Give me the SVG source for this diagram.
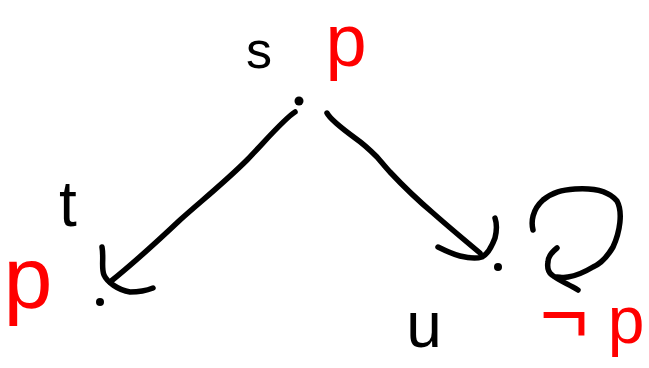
<svg xmlns="http://www.w3.org/2000/svg" width="649" height="368" viewBox="0 0 649 368">
<style>
.ink{fill:none;stroke:#000;stroke-width:5.5;stroke-linecap:round;stroke-linejoin:round}
.dot{fill:#000}
.lbl{font-family:"Liberation Sans","DejaVu Sans",sans-serif;fill:#000;text-anchor:middle}
.prop{font-family:"Liberation Sans","DejaVu Sans",sans-serif;fill:#ff0000;text-anchor:middle}
</style>
<rect width="649" height="368" fill="#fff"/>
<g id="node-s">
<circle class="dot" cx="299" cy="101" r="4.5"/>
<text class="lbl" x="259" y="68" font-size="52">s</text>
<text class="prop" x="346" y="66" font-size="74">p</text>
</g>
<g id="node-t">
<circle class="dot" cx="100" cy="302" r="4"/>
<text class="lbl" x="68" y="226" font-size="64">t</text>
<text class="prop" x="28" y="308" font-size="88">p</text>
</g>
<g id="node-u">
<circle class="dot" cx="498" cy="267" r="4"/>
<text class="lbl" x="424" y="347" font-size="64">u</text>
<text class="prop" y="343"><tspan x="564" font-size="84">¬</tspan><tspan x="626" font-size="66">p</tspan></text>
</g>
<g id="connectors">
<path class="ink" d="M295,112 C285,118 268,138 247,160 C225,182 200,202 180,220 C162,237 130,266 110,282"/>
<path class="ink" d="M102,247 C104,258 101,268 104,275 C107,282 118,290 130,292 C140,292 148,290 153,288"/>
<path class="ink" d="M327,113 C330,119 340,127 355,138 C365,145 372,152 377,157 C383,164 386,168 390,172 C405,188 420,202 433,213 C450,228 468,243 480,253"/>
<path class="ink" d="M438,247 C446,251 452,254 460,256 C468,258 476,259 482,257 C488,254 492,246 495,238 C497,230 497,224 495,218"/>
<path class="ink" d="M533,230 C531,222 532,210 543,200 C553,192 562,190 575,189 C590,188 608,190 617,201 C623,212 620,232 613,247 C606,259 600,264 593,267 C583,273 575,276 568,277 C563,278 560,277 557,277"/>
<path class="ink" d="M557,248 C552,252 548,256 548,262 C547,268 548,272 552,275 C558,280 568,284 578,290"/>
</g>
</svg>
